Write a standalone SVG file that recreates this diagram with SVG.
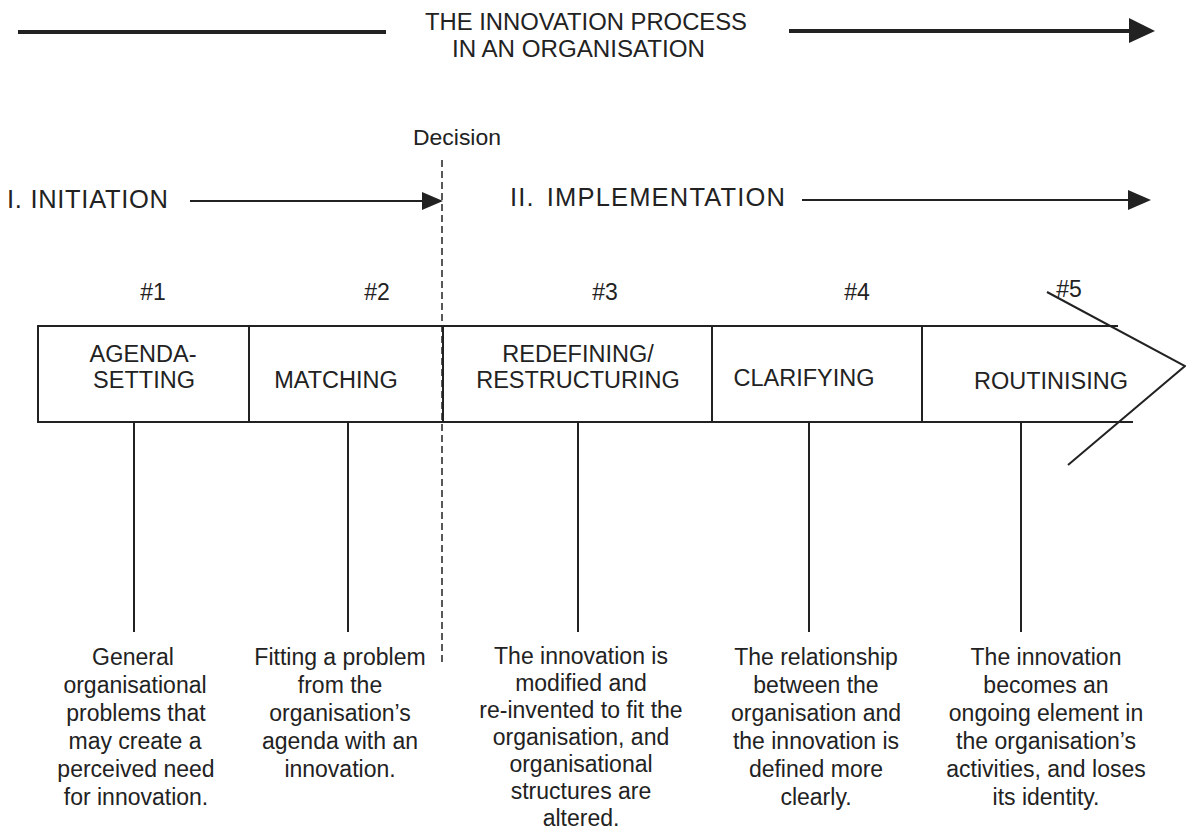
<svg xmlns="http://www.w3.org/2000/svg" width="1186" height="830" viewBox="0 0 1186 830">
  <style>
    text { font-family: "Liberation Sans", Arial, Helvetica, sans-serif; fill: #222; }
    .title { font-size: 23.5px; }
    .phase { font-size: 25.5px; }
    .num { font-size: 23px; text-anchor: middle; }
    .label { font-size: 23.5px; text-anchor: middle; }
    .desc { font-size: 23px; text-anchor: middle; }
    .ln { stroke: #222; stroke-width: 2; fill: none; }
    .thick { stroke: #222; stroke-width: 4; fill: none; }
    .dash { stroke: #222; stroke-width: 1.5; stroke-dasharray: 7 4; fill: none; }
    .head { fill: #222; }
  </style>
  <rect width="1186" height="830" fill="#ffffff"/>

  <!-- overall process banner -->
  <g id="banner">
    <line class="thick" x1="18" y1="32" x2="386" y2="32"/>
    <line class="thick" x1="789" y1="31" x2="1134" y2="31"/>
    <polygon class="head" points="1129,18 1155,31 1129,43"/>
    <text class="title" x="425" y="30" textLength="322" lengthAdjust="spacingAndGlyphs">THE INNOVATION PROCESS</text>
    <text class="title" x="452" y="57" textLength="253" lengthAdjust="spacingAndGlyphs">IN AN ORGANISATION</text>
  </g>

  <!-- decision point -->
  <g id="decision">
    <text x="413" y="145" font-size="22" textLength="88" lengthAdjust="spacingAndGlyphs">Decision</text>
    <line class="dash" x1="442" y1="160" x2="442" y2="662"/>
  </g>

  <!-- phase headings -->
  <g id="phase-initiation">
    <text class="phase" x="7" y="208" textLength="161" lengthAdjust="spacing">I. INITIATION</text>
    <line class="ln" x1="190" y1="201" x2="426" y2="201"/>
    <polygon class="head" points="422,192 443,201 422,210"/>
  </g>
  <g id="phase-implementation">
    <text class="phase" x="510" y="206" textLength="275" lengthAdjust="spacing">II.<tspan dx="12">IMPLEMENTATION</tspan></text>
    <line class="ln" x1="802" y1="200" x2="1132" y2="200"/>
    <polygon class="head" points="1128,190 1151,200 1128,210"/>
  </g>

  <!-- stage numbers -->
  <g id="numbers">
    <text class="num" x="153" y="300">#1</text>
    <text class="num" x="377" y="300">#2</text>
    <text class="num" x="605" y="300">#3</text>
    <text class="num" x="857" y="300">#4</text>
    <text class="num" x="1069" y="297">#5</text>
  </g>

  <!-- stage bar outline -->
  <g id="bar">
    <line class="ln" x1="37" y1="326" x2="1118" y2="326"/>
    <line class="ln" x1="37" y1="422" x2="1133" y2="422"/>
    <line class="ln" x1="38" y1="326" x2="38" y2="422"/>
    <polyline class="ln" points="1047,292 1185,366 1068,465"/>
  </g>

  <!-- stages -->
  <g id="stage-1">
    <text class="label" x="143" y="362">AGENDA-</text>
    <text class="label" x="144" y="388">SETTING</text>
  </g>
  <g id="stage-2">
    <line class="ln" x1="249" y1="326" x2="249" y2="422"/>
    <text class="label" x="336" y="388">MATCHING</text>
  </g>
  <g id="stage-3">
    <line class="ln" x1="443" y1="326" x2="443" y2="422"/>
    <text class="label" x="578" y="362">REDEFINING/</text>
    <text class="label" x="578" y="388">RESTRUCTURING</text>
  </g>
  <g id="stage-4">
    <line class="ln" x1="712" y1="326" x2="712" y2="422"/>
    <text class="label" x="804" y="386">CLARIFYING</text>
  </g>
  <g id="stage-5">
    <line class="ln" x1="922" y1="326" x2="922" y2="422"/>
    <text class="label" x="1051" y="389">ROUTINISING</text>
  </g>

  <!-- leaders from stages to their descriptions -->
  <g id="connectors">
    <line class="ln" x1="134" y1="422" x2="134" y2="632"/>
    <line class="ln" x1="348" y1="422" x2="348" y2="632"/>
    <line class="ln" x1="578" y1="422" x2="578" y2="632"/>
    <line class="ln" x1="809" y1="422" x2="809" y2="632"/>
    <line class="ln" x1="1021" y1="422" x2="1021" y2="632"/>
  </g>

  <!-- stage descriptions -->
  <g id="desc-1">
    <text class="desc" x="133" y="665">General</text>
    <text class="desc" x="135" y="693">organisational</text>
    <text class="desc" x="136" y="721">problems that</text>
    <text class="desc" x="135" y="749">may create a</text>
    <text class="desc" x="136" y="777">perceived need</text>
    <text class="desc" x="136" y="805">for innovation.</text>
  </g>
  <g id="desc-2">
    <text class="desc" x="340" y="665">Fitting a problem</text>
    <text class="desc" x="340" y="693">from the</text>
    <text class="desc" x="340" y="721">organisation’s</text>
    <text class="desc" x="340" y="749">agenda with an</text>
    <text class="desc" x="340" y="777">innovation.</text>
  </g>
  <g id="desc-3">
    <text class="desc" x="581" y="664">The innovation is</text>
    <text class="desc" x="581" y="691">modified and</text>
    <text class="desc" x="581" y="718">re-invented to fit the</text>
    <text class="desc" x="581" y="745">organisation, and</text>
    <text class="desc" x="581" y="772">organisational</text>
    <text class="desc" x="581" y="799">structures are</text>
    <text class="desc" x="581" y="826">altered.</text>
  </g>
  <g id="desc-4">
    <text class="desc" x="816" y="665">The relationship</text>
    <text class="desc" x="816" y="693">between the</text>
    <text class="desc" x="816" y="721">organisation and</text>
    <text class="desc" x="816" y="749">the innovation is</text>
    <text class="desc" x="816" y="777">defined more</text>
    <text class="desc" x="816" y="805">clearly.</text>
  </g>
  <g id="desc-5">
    <text class="desc" x="1046" y="665">The innovation</text>
    <text class="desc" x="1046" y="693">becomes an</text>
    <text class="desc" x="1046" y="721">ongoing element in</text>
    <text class="desc" x="1046" y="749">the organisation’s</text>
    <text class="desc" x="1046" y="777">activities, and loses</text>
    <text class="desc" x="1046" y="805">its identity.</text>
  </g>
</svg>
